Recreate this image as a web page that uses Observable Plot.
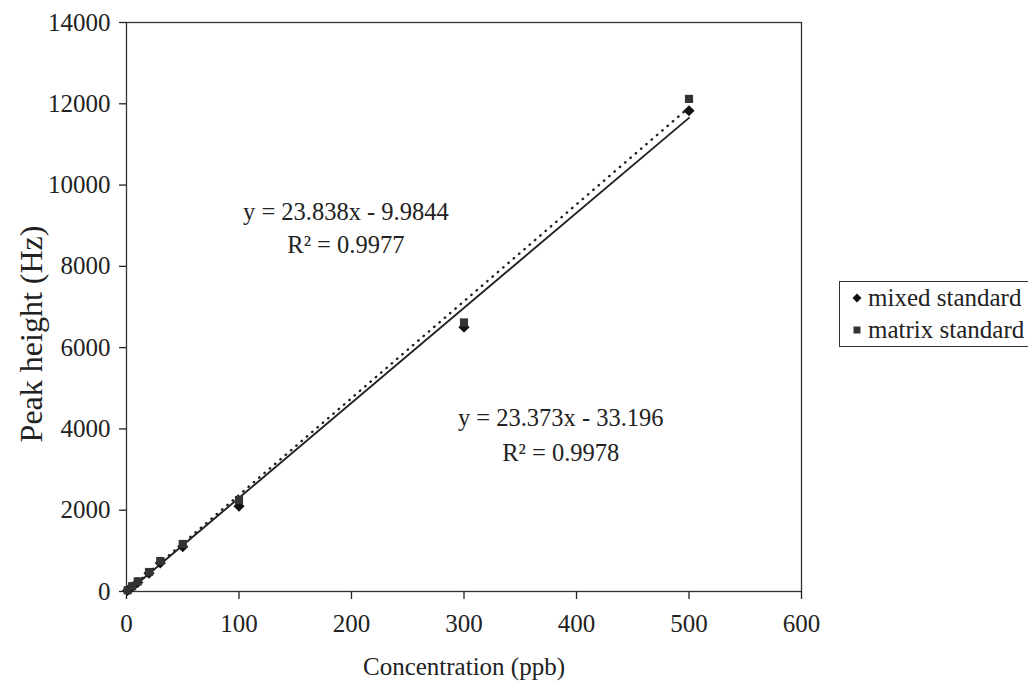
<!DOCTYPE html>
<html>
<head>
<meta charset="utf-8">
<script src="https://cdn.jsdelivr.net/npm/d3@7"></script>
<script src="https://cdn.jsdelivr.net/npm/@observablehq/plot@0.6"></script>
<style>
  html, body { margin: 0; padding: 0; background: #fff; overflow: hidden; }
  #wrap { position: relative; width: 1028px; height: 684px; overflow: hidden; }
  #legend {
    position: absolute; left: 839px; top: 281px; width: 210px; height: 64px;
    border: 1.5px solid #333; background: #fff;
    font-family: 'Liberation Serif', 'Times New Roman', serif; font-size: 25px; color: #222;
  }
  .row { position: absolute; left: 0; height: 32px; display: flex; align-items: center; white-space: nowrap; }
  .row svg { margin-left: 11px; margin-right: 5px; }
</style>
</head>
<body>
<div id="wrap"><div id="legend"></div></div>
<script>
// Data
const conc   = [1, 5, 10, 20, 30, 50, 100, 300, 500];           // ppb
const mixed  = [25, 110, 220, 450, 700, 1100, 2100, 6500, 11830]; // Hz, mixed standard (diamond)
const matrix = [30, 130, 250, 480, 750, 1170, 2250, 6620, 12120]; // Hz, matrix standard (square)
const seriesNames = ["mixed standard", "matrix standard"];
const xTicks = [0, 100, 200, 300, 400, 500, 600];
const yTicks = [0, 2000, 4000, 6000, 8000, 10000, 12000, 14000];

// Trendline equations shown on the chart
const fitSeries    = ["matrix standard", "mixed standard"];
const fitSlope     = [23.838, 23.373];
const fitIntercept = [-9.9844, -33.196];
const fitR2        = ["0.9977", "0.9978"];
const eqText       = ["y = 23.838x - 9.9844", "y = 23.373x - 33.196"];
const eqX          = [195, 386];
const eqY          = [9330, 4260];
const r2Y          = [8520, 3400];

const mixedPts  = conc.map((c, i) => ({x: c, y: mixed[i]}));
const matrixPts = conc.map((c, i) => ({x: c, y: matrix[i]}));
const xMin = 0, xMax = d3.max(conc);
const trend = fitSeries.map((s, i) => [xMin, xMax].map(x => ({series: s, x, y: fitSlope[i] * x + fitIntercept[i]})));
const eqLabels = eqText.map((t, i) => ({x: eqX[i], y: eqY[i], text: t}));
const r2Labels = fitR2.map((r, i) => ({x: eqX[i], y: r2Y[i], text: "R\u00B2 = " + r}));

const fmt = d => String(d);
const font = "'Liberation Serif', 'Times New Roman', serif";

const chart = Plot.plot({
  width: 1028, height: 684,
  marginLeft: 126, marginRight: 227, marginTop: 22, marginBottom: 93,
  style: {fontFamily: font, fontSize: "25px", background: "white", color: "#222", overflow: "visible"},
  x: {domain: [0, 600]},
  y: {domain: [0, 14000]},
  marks: [
    Plot.frame({stroke: "#333", strokeWidth: 1.3}),
    Plot.axisX({ticks: xTicks, tickSize: 8, tickPadding: 15, tickFormat: fmt, label: null, strokeWidth: 1.3}),
    Plot.axisY({ticks: yTicks, tickSize: 7, tickPadding: 9, tickFormat: fmt, label: null, strokeWidth: 1.3}),
    Plot.line(trend[0], {x: "x", y: "y", stroke: "#222", strokeWidth: 2.4, strokeDasharray: "0.5,6.5", strokeLinecap: "round"}),
    Plot.line(trend[1], {x: "x", y: "y", stroke: "#222", strokeWidth: 1.9}),
    Plot.dot(mixedPts, {x: "x", y: "y", symbol: "diamond2", r: 5, fill: "#111", stroke: "none"}),
    Plot.dot(matrixPts, {x: "x", y: "y", symbol: "square", r: 4.6, fill: "#333", stroke: "none"}),
    Plot.text(eqLabels, {x: "x", y: "y", text: "text", fill: "#222", fontSize: 24.5}),
    Plot.text(r2Labels, {x: "x", y: "y", text: "text", fill: "#222", fontSize: 24.5}),
    Plot.text(["Concentration (ppb)"], {text: d => d, frameAnchor: "bottom", textAnchor: "middle", lineAnchor: "middle", dy: 75, fill: "#222"}),
    Plot.text(["Peak height (Hz)"], {text: d => d, frameAnchor: "left", textAnchor: "middle", lineAnchor: "middle", dx: -95, dy: 27, rotate: -90, fill: "#222", fontSize: 32})
  ]
});
document.getElementById("wrap").prepend(chart);

// Legend
const legend = document.getElementById("legend");
const markers = [
  '<svg width="12" height="12" viewBox="0 0 12 12"><polygon points="6,1.5 10.5,6 6,10.5 1.5,6" fill="#111"/></svg>',
  '<svg width="12" height="12" viewBox="0 0 12 12"><rect x="2.5" y="2.5" width="7" height="7" fill="#333"/></svg>'
];
seriesNames.forEach((name, i) => {
  const row = document.createElement("div");
  row.className = "row";
  row.style.top = (i * 32) + "px";
  row.innerHTML = markers[i] + "<span>" + name + "</span>";
  legend.appendChild(row);
});
</script>
</body>
</html>
